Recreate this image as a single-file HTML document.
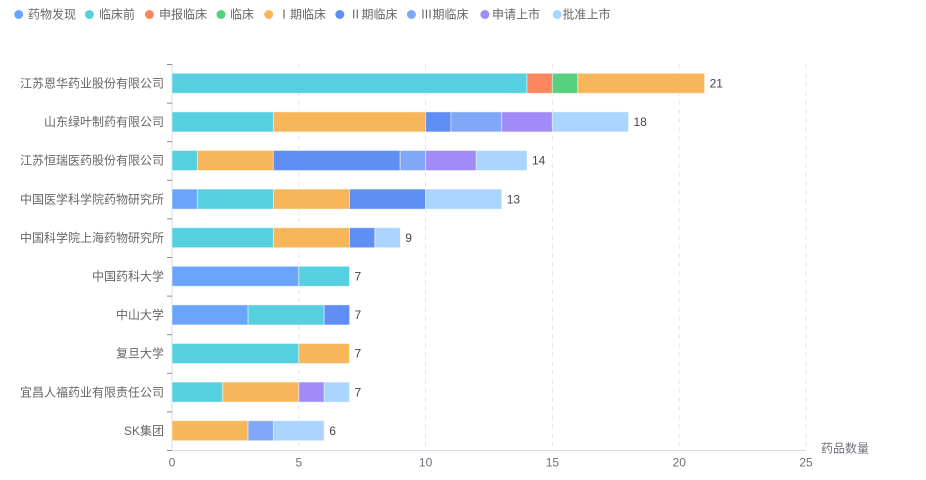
<!DOCTYPE html>
<html><head><meta charset="utf-8"><style>
html,body{margin:0;padding:0;background:#fff;width:926px;height:480px;overflow:hidden}
svg{display:block}
text{font-family:"Liberation Sans","Noto Sans CJK SC",sans-serif;font-size:12px}
</style></head><body>
<svg width="926" height="480" viewBox="0 0 926 480" xmlns="http://www.w3.org/2000/svg">
<!-- legend -->
<g fill="#666">
<circle cx="18.7" cy="14.5" r="4.5" fill="#6aa5fb"/><text x="28" y="18.5">药物发现</text>
<circle cx="89.4" cy="14.5" r="4.5" fill="#56d0e0"/><text x="99" y="18.5">临床前</text>
<circle cx="149.4" cy="14.5" r="4.5" fill="#fb875f"/><text x="159" y="18.5">申报临床</text>
<circle cx="221" cy="14.5" r="4.5" fill="#57d07f"/><text x="230" y="18.5">临床</text>
<circle cx="268.7" cy="14.5" r="4.5" fill="#f8b65b"/><text x="284" y="18.5" text-anchor="middle">Ⅰ</text><text x="290" y="18.5">期临床</text>
<circle cx="339.8" cy="14.5" r="4.5" fill="#5f8ef5"/><text x="355.5" y="18.5" text-anchor="middle">Ⅱ</text><text x="361.5" y="18.5">期临床</text>
<circle cx="411.4" cy="14.5" r="4.5" fill="#80a8f7"/><text x="426.5" y="18.5" text-anchor="middle">Ⅲ</text><text x="432.5" y="18.5">期临床</text>
<circle cx="484.9" cy="14.5" r="4.5" fill="#a18bf6"/><text x="492" y="18.5">申请上市</text>
<circle cx="557.2" cy="14.5" r="4.5" fill="#a9d5fe"/><text x="562.5" y="18.5">批准上市</text>
</g>
<!-- grid lines -->
<g stroke="#e0e6f1" stroke-width="1" stroke-dasharray="5,4">
<line x1="298.8" y1="64" x2="298.8" y2="450"/>
<line x1="425.6" y1="64" x2="425.6" y2="450"/>
<line x1="552.4" y1="64" x2="552.4" y2="450"/>
<line x1="679.2" y1="64" x2="679.2" y2="450"/>
<line x1="806" y1="64" x2="806" y2="450"/>
</g>
<!-- axes -->
<line x1="172" y1="64" x2="172" y2="450.5" stroke="#d5dee3" stroke-width="1"/>
<line x1="172" y1="450.5" x2="806" y2="450.5" stroke="#d5dee3" stroke-width="1"/>
<g stroke="#8a8d95" stroke-width="1">
<line x1="167" y1="64.5" x2="172" y2="64.5"/>
<line x1="167" y1="103.1" x2="172" y2="103.1"/>
<line x1="167" y1="141.7" x2="172" y2="141.7"/>
<line x1="167" y1="180.3" x2="172" y2="180.3"/>
<line x1="167" y1="218.9" x2="172" y2="218.9"/>
<line x1="167" y1="257.5" x2="172" y2="257.5"/>
<line x1="167" y1="296.1" x2="172" y2="296.1"/>
<line x1="167" y1="334.7" x2="172" y2="334.7"/>
<line x1="167" y1="373.3" x2="172" y2="373.3"/>
<line x1="167" y1="411.9" x2="172" y2="411.9"/>
<line x1="167" y1="450.5" x2="172" y2="450.5"/>
</g>
<!-- x labels -->
<g fill="#6e7079" text-anchor="middle">
<text x="172" y="466.5">0</text>
<text x="298.8" y="466.5">5</text>
<text x="425.6" y="466.5">10</text>
<text x="552.4" y="466.5">15</text>
<text x="679.2" y="466.5">20</text>
<text x="806" y="466.5">25</text>
</g>
<text x="821" y="452.5" fill="#6e7079">药品数量</text>
<!-- y labels -->
<g fill="#666" text-anchor="end">
<text x="164" y="87.5">江苏恩华药业股份有限公司</text>
<text x="164" y="126.1">山东绿叶制药有限公司</text>
<text x="164" y="164.7">江苏恒瑞医药股份有限公司</text>
<text x="164" y="203.3">中国医学科学院药物研究所</text>
<text x="164" y="241.9">中国科学院上海药物研究所</text>
<text x="164" y="280.5">中国药科大学</text>
<text x="164" y="319.1">中山大学</text>
<text x="164" y="357.7">复旦大学</text>
<text x="164" y="396.3">宜昌人福药业有限责任公司</text>
<text x="164" y="434.9">SK集团</text>
</g>
<!-- bars -->
<g stroke="rgba(255,255,255,0.45)" stroke-width="1">
<rect x="172" y="73.3" width="355.0" height="20" fill="#56d0e0"/>
<rect x="527.0" y="73.3" width="25.4" height="20" fill="#fb875f"/>
<rect x="552.4" y="73.3" width="25.4" height="20" fill="#57d07f"/>
<rect x="577.8" y="73.3" width="126.8" height="20" fill="#f8b65b"/>
<rect x="172" y="111.9" width="101.4" height="20" fill="#56d0e0"/>
<rect x="273.4" y="111.9" width="152.2" height="20" fill="#f8b65b"/>
<rect x="425.6" y="111.9" width="25.4" height="20" fill="#5f8ef5"/>
<rect x="451.0" y="111.9" width="50.7" height="20" fill="#80a8f7"/>
<rect x="501.7" y="111.9" width="50.7" height="20" fill="#a18bf6"/>
<rect x="552.4" y="111.9" width="76.1" height="20" fill="#a9d5fe"/>
<rect x="172" y="150.5" width="25.4" height="20" fill="#56d0e0"/>
<rect x="197.4" y="150.5" width="76.1" height="20" fill="#f8b65b"/>
<rect x="273.4" y="150.5" width="126.8" height="20" fill="#5f8ef5"/>
<rect x="400.2" y="150.5" width="25.4" height="20" fill="#80a8f7"/>
<rect x="425.6" y="150.5" width="50.7" height="20" fill="#a18bf6"/>
<rect x="476.3" y="150.5" width="50.7" height="20" fill="#a9d5fe"/>
<rect x="172" y="189.1" width="25.4" height="20" fill="#6aa5fb"/>
<rect x="197.4" y="189.1" width="76.1" height="20" fill="#56d0e0"/>
<rect x="273.4" y="189.1" width="76.1" height="20" fill="#f8b65b"/>
<rect x="349.5" y="189.1" width="76.1" height="20" fill="#5f8ef5"/>
<rect x="425.6" y="189.1" width="76.1" height="20" fill="#a9d5fe"/>
<rect x="172" y="227.7" width="101.4" height="20" fill="#56d0e0"/>
<rect x="273.4" y="227.7" width="76.1" height="20" fill="#f8b65b"/>
<rect x="349.5" y="227.7" width="25.4" height="20" fill="#5f8ef5"/>
<rect x="374.9" y="227.7" width="25.4" height="20" fill="#a9d5fe"/>
<rect x="172" y="266.3" width="126.8" height="20" fill="#6aa5fb"/>
<rect x="298.8" y="266.3" width="50.7" height="20" fill="#56d0e0"/>
<rect x="172" y="304.9" width="76.1" height="20" fill="#6aa5fb"/>
<rect x="248.1" y="304.9" width="76.1" height="20" fill="#56d0e0"/>
<rect x="324.2" y="304.9" width="25.4" height="20" fill="#5f8ef5"/>
<rect x="172" y="343.5" width="126.8" height="20" fill="#56d0e0"/>
<rect x="298.8" y="343.5" width="50.7" height="20" fill="#f8b65b"/>
<rect x="172" y="382.1" width="50.7" height="20" fill="#56d0e0"/>
<rect x="222.7" y="382.1" width="76.1" height="20" fill="#f8b65b"/>
<rect x="298.8" y="382.1" width="25.4" height="20" fill="#a18bf6"/>
<rect x="324.2" y="382.1" width="25.4" height="20" fill="#a9d5fe"/>
<rect x="172" y="420.7" width="76.1" height="20" fill="#f8b65b"/>
<rect x="248.1" y="420.7" width="25.4" height="20" fill="#80a8f7"/>
<rect x="273.4" y="420.7" width="50.7" height="20" fill="#a9d5fe"/>
</g>
<!-- value labels -->
<g fill="#444">
<text x="709.6" y="87.5">21</text>
<text x="633.5" y="126.1">18</text>
<text x="532" y="164.7">14</text>
<text x="506.7" y="203.3">13</text>
<text x="405.2" y="241.9">9</text>
<text x="354.5" y="280.5">7</text>
<text x="354.5" y="319.1">7</text>
<text x="354.5" y="357.7">7</text>
<text x="354.5" y="396.3">7</text>
<text x="329.2" y="434.9">6</text>
</g>
</svg>
</body></html>
